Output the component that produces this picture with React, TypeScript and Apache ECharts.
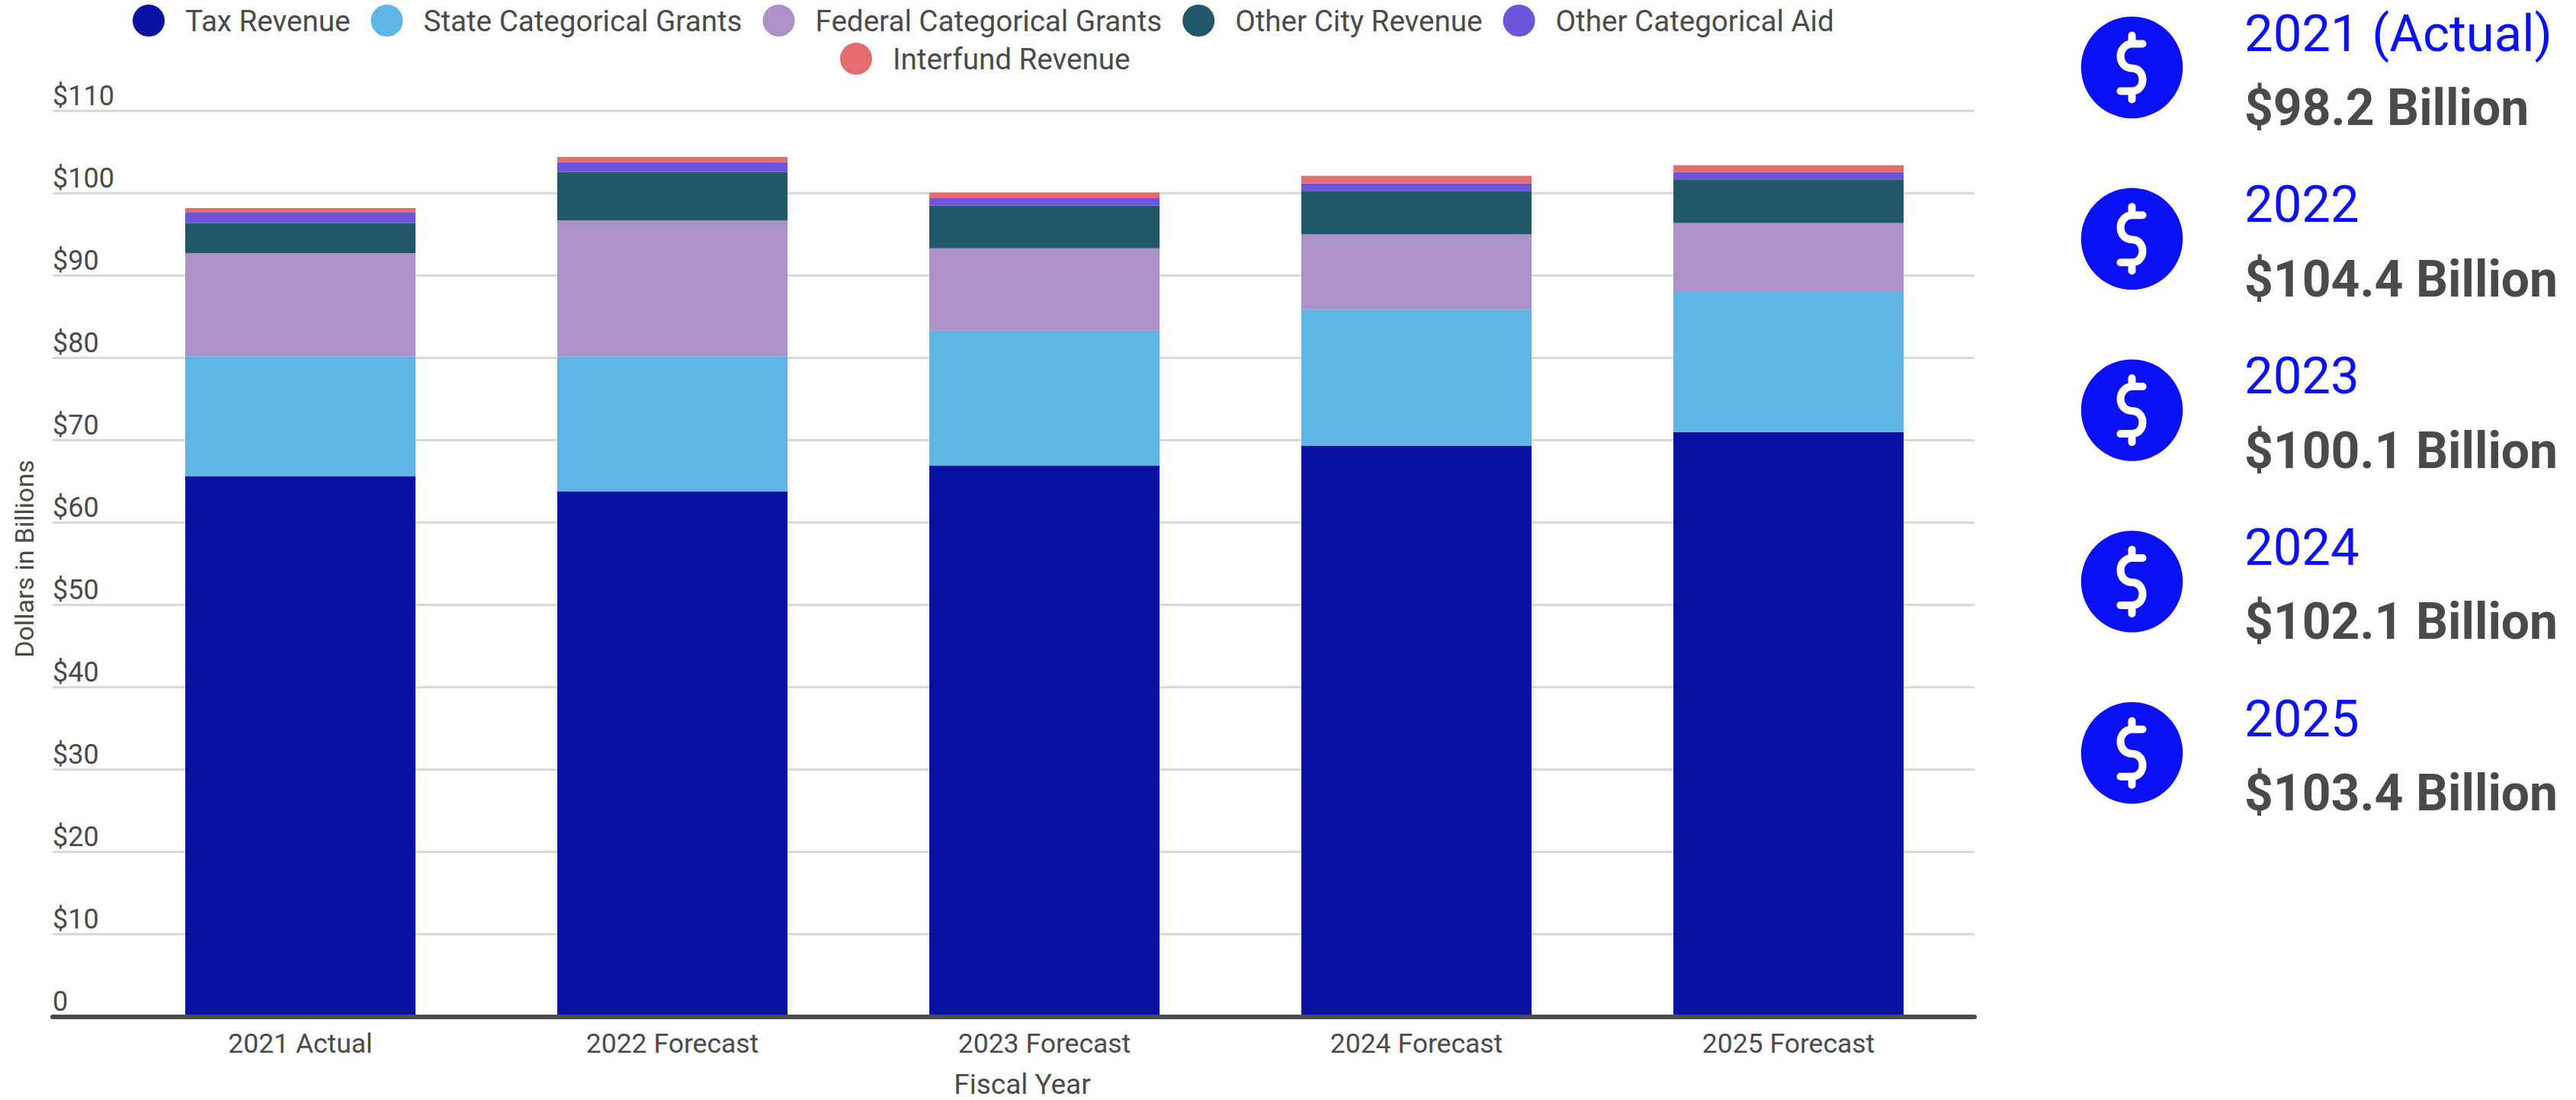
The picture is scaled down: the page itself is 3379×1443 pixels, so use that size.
import React, { useEffect, useRef } from "react";
import * as echarts from "echarts";

const categories = ["2021 Actual", "2022 Forecast", "2023 Forecast", "2024 Forecast", "2025 Forecast"];
const taxRevenue = [65.6, 63.8, 66.9, 69.3, 71.0];
const stateGrants = [14.6, 16.4, 16.4, 16.6, 17.1];
const federalGrants = [12.5, 16.5, 10.0, 9.1, 8.3];
const otherCityRevenue = [3.7, 5.9, 5.2, 5.3, 5.3];
const otherCategoricalAid = [1.3, 1.2, 0.9, 0.9, 0.9];
const interfundRevenue = [0.5, 0.6, 0.7, 0.9, 0.8];

const summaryYears = ["2021 (Actual)", "2022", "2023", "2024", "2025"];
const summaryTotals = ["$98.2 Billion", "$104.4 Billion", "$100.1 Billion", "$102.1 Billion", "$103.4 Billion"];

const seriesDefs = [
  { name: "Tax Revenue", data: taxRevenue, color: "#0A10A4" },
  { name: "State Categorical Grants", data: stateGrants, color: "#5FB6E6" },
  { name: "Federal Categorical Grants", data: federalGrants, color: "#AC91C7" },
  { name: "Other City Revenue", data: otherCityRevenue, color: "#215868" },
  { name: "Other Categorical Aid", data: otherCategoricalAid, color: "#6E54DA" },
  { name: "Interfund Revenue", data: interfundRevenue, color: "#E36D6D" },
];

const INK = "#4A4A4A";
const FONT = "Roboto";

// Dollar glyph centred on its origin, drawn as a stroked outline.
echarts.graphic.registerShape(
  "dollarGlyph",
  echarts.graphic.extendPath(
    "M14,-31 L0,-31 C-9,-31 -15,-23 -15,-15 C-15,-6 -9,1 0,1 C9,1 14,8 14,16 C14,24 9,31 0,31 L-15,31 M0,-42 L0,-31 M0,31 L0,42",
    {}
  )
);

const summaryGraphics = summaryYears.flatMap((year, i) => {
  const cy = 88.5 + 224.8 * i;
  return [
    { type: "circle", shape: { cx: 2796.5, cy, r: 66.7 }, style: { fill: "#0A12F5" } },
    {
      type: "dollarGlyph",
      x: 2796.5,
      y: cy,
      style: { fill: "none", stroke: "#FFFFFF", lineWidth: 10, lineCap: "round", lineJoin: "round" },
    },
    {
      type: "text",
      x: 2944,
      y: cy - 45,
      style: { text: year, fill: "#0A12F5", font: `400 67px ${FONT}`, align: "left", verticalAlign: "middle" },
    },
    {
      type: "text",
      x: 2944,
      y: cy + 53,
      style: { text: summaryTotals[i], fill: INK, font: `700 66px ${FONT}`, align: "left", verticalAlign: "middle" },
    },
  ];
});

const legendBase = {
  orient: "horizontal",
  icon: "circle",
  itemWidth: 42,
  itemHeight: 42,
  itemGap: 27,
  padding: 0,
  selectedMode: false,
  textStyle: { color: INK, fontFamily: FONT, fontSize: 38.6, padding: [0, 0, 0, 22] },
};

export default function App() {
  const ref = useRef<HTMLDivElement>(null);

  useEffect(() => {
    document.body.style.margin = "0";
    const chart = echarts.init(ref.current!, null, { renderer: "svg" });
    const axisLine = { show: true, lineStyle: { color: "#4D4D4D", width: 6 } };
    const splitLine = { show: true, lineStyle: { color: "#D9D9D9", width: 3 } };
    const top = 145.5;
    const height = 1188;
    chart.setOption({
      animation: false,
      backgroundColor: "#FFFFFF",
      legend: [
        { ...legendBase, left: 174, top: 6, data: seriesDefs.slice(0, 5).map((s) => s.name) },
        { ...legendBase, left: 1102, top: 56, data: seriesDefs.slice(5).map((s) => s.name) },
      ],
      grid: [
        { left: 150, width: 2440, top, height },
        { left: 69, width: 81, top, height },
      ],
      xAxis: [
        {
          type: "category",
          gridIndex: 0,
          data: categories,
          z: 5,
          axisLine,
          axisTick: { show: false },
          axisLabel: { color: INK, fontFamily: FONT, fontSize: 35.5, margin: 17 },
        },
        {
          type: "category",
          gridIndex: 1,
          data: [""],
          z: 5,
          axisLine,
          axisTick: { show: false },
          axisLabel: { show: false },
        },
      ],
      yAxis: [
        {
          type: "value",
          gridIndex: 0,
          min: 0,
          max: 110,
          interval: 10,
          axisLine: { show: false },
          axisTick: { show: false },
          axisLabel: { show: false },
          splitLine,
        },
        {
          type: "value",
          gridIndex: 1,
          min: 0,
          max: 110,
          interval: 10,
          axisLine: { show: false },
          axisTick: { show: false },
          splitLine,
          axisLabel: {
            inside: true,
            margin: 0,
            align: "left",
            verticalAlign: "bottom",
            padding: [0, 0, 2, 0],
            color: INK,
            fontFamily: FONT,
            fontSize: 36,
            formatter: (v: number) => (v === 0 ? "0" : `$${v}`),
          },
        },
      ],
      series: seriesDefs.map((s) => ({
        name: s.name,
        type: "bar",
        stack: "revenue",
        xAxisIndex: 0,
        yAxisIndex: 0,
        barWidth: 302,
        data: s.data,
        itemStyle: { color: s.color },
      })),
      graphic: [
        {
          type: "text",
          x: 32,
          y: 733,
          rotation: Math.PI / 2,
          style: { text: "Dollars in Billions", fill: INK, font: `34px ${FONT}`, align: "center", verticalAlign: "middle" },
        },
        {
          type: "text",
          x: 1341,
          y: 1422,
          style: { text: "Fiscal Year", fill: INK, font: `37px ${FONT}`, align: "center", verticalAlign: "middle" },
        },
        ...summaryGraphics,
      ],
    });
    return () => chart.dispose();
  }, []);

  return <div ref={ref} style={{ width: 3379, height: 1443 }} />;
}
